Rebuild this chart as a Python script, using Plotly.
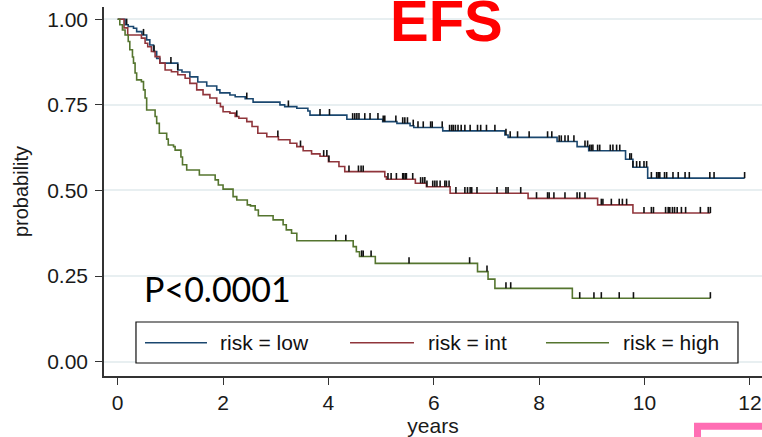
import numpy as np
import plotly.graph_objects as go

# ---- Kaplan-Meier step data (time in years, survival after each event) ----
low_times = [0.14, 0.20, 0.30, 0.36, 0.46, 0.55, 0.61, 0.68, 0.74, 0.80, 1.14, 1.22, 1.37,
             1.52, 1.69, 1.88, 1.94, 2.13, 2.23, 2.42, 2.57, 3.08, 3.17, 3.40, 3.61, 3.65,
             4.35, 5.03, 5.30, 5.55, 5.62, 6.17, 7.35, 7.41, 8.34, 8.72, 8.94, 9.64, 9.78, 10.06]
low_surv = [0.984, 0.979, 0.974, 0.964, 0.954, 0.940, 0.925, 0.906, 0.886, 0.872, 0.852, 0.846,
            0.832, 0.817, 0.805, 0.794, 0.785, 0.779, 0.774, 0.768, 0.758, 0.750, 0.745, 0.740,
            0.732, 0.720, 0.708, 0.701, 0.696, 0.689, 0.684, 0.674, 0.662, 0.655, 0.643, 0.628,
            0.616, 0.591, 0.568, 0.536]
low_end = 11.90
low_censor = [0.17, 0.49, 0.69, 1.01, 1.14, 2.45, 3.24, 3.84, 4.02, 4.46, 4.50, 4.54, 4.58,
              4.69, 4.79, 4.94, 5.04, 5.07, 5.28, 5.41, 5.45, 5.50, 5.61, 5.70, 5.80, 5.94,
              5.97, 6.16, 6.30, 6.34, 6.37, 6.41, 6.46, 6.52, 6.59, 6.69, 6.83, 6.89, 7.00,
              7.16, 7.37, 7.45, 7.59, 7.81, 8.16, 8.24, 8.38, 8.42, 8.49, 8.55, 8.66, 8.87,
              8.92, 8.96, 8.99, 9.02, 9.11, 9.15, 9.35, 9.40, 9.47, 9.53, 9.72, 9.75, 9.78,
              9.85, 9.91, 9.99, 10.04, 10.13, 10.23, 10.26, 10.29, 10.38, 10.42, 10.54, 10.64,
              10.77, 10.85, 11.24, 11.32, 11.90]

int_times = [0.12, 0.19, 0.45, 0.52, 0.57, 0.64, 0.71, 0.80, 0.90, 1.02, 1.14, 1.28, 1.37,
             1.50, 1.62, 1.75, 1.88, 1.95, 2.00, 2.13, 2.23, 2.30, 2.45, 2.55, 2.66, 2.83,
             3.05, 3.27, 3.40, 3.52, 3.68, 3.84, 4.00, 4.20, 4.31, 5.07, 5.10, 5.65, 5.86,
             6.31, 7.79, 9.11, 9.78]
int_surv = [0.975, 0.954, 0.945, 0.930, 0.920, 0.906, 0.891, 0.872, 0.852, 0.847, 0.838,
            0.828, 0.813, 0.794, 0.780, 0.770, 0.755, 0.745, 0.730, 0.726, 0.716, 0.711,
            0.701, 0.687, 0.667, 0.657, 0.648, 0.638, 0.628, 0.616, 0.607, 0.600, 0.584,
            0.570, 0.555, 0.540, 0.533, 0.521, 0.511, 0.492, 0.477, 0.458, 0.434]
int_end = 11.25
int_censor = [2.26, 3.04, 3.47, 3.91, 3.97, 4.01, 4.39, 4.57, 4.62, 4.66, 5.13, 5.19, 5.29,
              5.41, 5.43, 5.46, 5.48, 5.60, 5.75, 5.79, 5.83, 5.87, 5.98, 6.02, 6.06, 6.12,
              6.21, 6.24, 6.29, 6.42, 6.59, 6.64, 6.69, 6.72, 6.82, 7.20, 7.37, 7.41, 7.65,
              7.95, 8.16, 8.19, 8.28, 8.49, 8.72, 8.77, 8.87, 9.18, 9.21, 9.37, 9.52, 9.58,
              9.66, 9.99, 10.13, 10.17, 10.40, 10.45, 10.48, 10.53, 10.57, 10.62, 10.70,
              10.78, 11.06, 11.21, 11.25]

high_times = [0.04, 0.09, 0.14, 0.20, 0.23, 0.28, 0.30, 0.33, 0.36, 0.45, 0.49, 0.52, 0.55,
              0.71, 0.74, 0.79, 0.93, 0.96, 1.06, 1.09, 1.20, 1.23, 1.31, 1.55, 1.85, 1.91,
              2.00, 2.19, 2.26, 2.46, 2.52, 2.61, 2.67, 2.95, 3.14, 3.20, 3.30, 3.40, 4.47,
              4.53, 4.59, 4.89, 6.83, 7.03, 7.16, 8.63]
high_surv = [0.984, 0.969, 0.954, 0.935, 0.911, 0.890, 0.872, 0.843, 0.823, 0.818, 0.794,
             0.770, 0.735, 0.716, 0.696, 0.667, 0.650, 0.633, 0.628, 0.618, 0.598, 0.575,
             0.560, 0.545, 0.531, 0.516, 0.504, 0.482, 0.472, 0.458, 0.455, 0.443, 0.426,
             0.414, 0.400, 0.385, 0.375, 0.353, 0.336, 0.321, 0.307, 0.287, 0.263, 0.241,
             0.214, 0.185]
high_end = 11.25
high_censor = [4.14, 4.33, 4.63, 4.66, 4.81, 5.53, 6.68, 7.01, 7.37, 7.46, 8.77, 9.04,
               9.18, 9.52, 9.79, 11.25]

group_names = ["risk = low", "risk = int", "risk = high"]
group_colors = ["#1a476f", "#90353b", "#55752f"]

x_ticks = [0, 2, 4, 6, 8, 10, 12]
y_ticks = [0.00, 0.25, 0.50, 0.75, 1.00]

groups = [
    (low_times, low_surv, low_end, low_censor),
    (int_times, int_surv, int_end, int_censor),
    (high_times, high_surv, high_end, high_censor),
]

FONT = "Liberation Sans, Arial, sans-serif"
X_RANGE = [-0.26, 12.23]
Y_RANGE = [-0.042, 1.036]
TICK_H = 0.018  # censor tick height in probability units

fig = go.Figure()

for (times, surv, end, cens), name, color in zip(groups, group_names, group_colors):
    xs = [0.0] + list(times) + [end]
    ys = [1.0] + list(surv) + [surv[-1]]
    fig.add_trace(go.Scatter(x=xs, y=ys, mode="lines", line=dict(color=color, width=1.6, shape="hv"),
                             name=name, showlegend=False, hoverinfo="skip"))

# censoring ticks sit on the curve at the survival level in effect at each time
for (times, surv, end, cens), name in zip(groups, group_names):
    t_arr = np.array([0.0] + list(times))
    s_arr = np.array([1.0] + list(surv))
    idx = np.searchsorted(t_arr, np.array(cens), side="right") - 1
    cy = s_arr[idx]
    fig.add_trace(go.Scatter(
        x=cens, y=cy, mode="markers", marker=dict(size=1, color="rgba(0,0,0,0)"),
        error_y=dict(type="constant", value=TICK_H, valueminus=0, symmetric=False,
                     width=0, thickness=1.6, color="#111111"),
        showlegend=False, hoverinfo="skip", name=name + " censored"))

shapes = []
annotations = []

# legend box drawn in paper space
shapes.append(dict(type="rect", xref="paper", yref="paper", x0=0.0486, x1=0.9635,
                   y0=0.0352, y1=0.1463, line=dict(color="#111111", width=1.2),
                   fillcolor="white", layer="above"))
legend_line_x = [(0.0623, 0.1565), (0.3739, 0.4711), (0.6717, 0.7675)]
legend_text_x = [0.1740, 0.4890, 0.7855]
for name, color, (lx0, lx1), tx in zip(group_names, group_colors, legend_line_x, legend_text_x):
    shapes.append(dict(type="line", xref="paper", yref="paper", x0=lx0, x1=lx1, y0=0.0902, y1=0.0902,
                       line=dict(color=color, width=1.4), layer="above"))
    annotations.append(dict(xref="paper", yref="paper", x=tx, y=0.0902, text=name, showarrow=False,
                            xanchor="left", yanchor="middle",
                            font=dict(family=FONT, size=21, color="#111111")))

# p-value text
annotations.append(dict(xref="x", yref="y", x=0.46, y=0.214, text="P<0.0001", showarrow=False,
                        xanchor="left", yanchor="middle",
                        font=dict(family="Lato, sans-serif", size=34, color="black")))

# title
annotations.append(dict(xref="paper", yref="paper", x=0.4316, y=0.870, text="<b>EFS</b>", showarrow=False,
                        xanchor="left", yanchor="bottom",
                        font=dict(family=FONT, size=58, color="#ff0000")))

# pink frame in the lower-right corner
shapes.append(dict(type="rect", xref="paper", yref="paper", x0=0.902, x1=1.2, y0=-0.136, y1=-0.5,
                   line=dict(color="#ff6eb4", width=7), fillcolor="white", layer="above"))

fig.update_layout(
    width=762, height=437,
    margin=dict(l=104, r=0, t=7, b=61),
    paper_bgcolor="white", plot_bgcolor="white",
    shapes=shapes, annotations=annotations,
    showlegend=False,
    xaxis=dict(range=X_RANGE, tickvals=x_ticks, ticktext=[str(v) for v in x_ticks],
               showgrid=False, zeroline=False, showline=True, linecolor="#333333", linewidth=1.5,
               ticks="outside", ticklen=7, tickwidth=1.3, tickcolor="#333333",
               tickfont=dict(family=FONT, size=21, color="#1a1a1a"),
               title=dict(text="years", font=dict(family=FONT, size=21, color="#1a1a1a"), standoff=2)),
    yaxis=dict(range=Y_RANGE, tickvals=y_ticks, tickformat=".2f",
               showgrid=True, gridcolor="#e8eff1", gridwidth=1.5, zeroline=False,
               showline=True, linecolor="#333333", linewidth=1.5,
               ticks="outside", ticklen=7, tickwidth=1.3, tickcolor="#333333",
               ticklabelstandoff=3,
               tickfont=dict(family=FONT, size=21, color="#1a1a1a"),
               title=dict(text="probability", font=dict(family=FONT, size=20, color="#1a1a1a"), standoff=13)),
)

fig.write_html("out.html")
